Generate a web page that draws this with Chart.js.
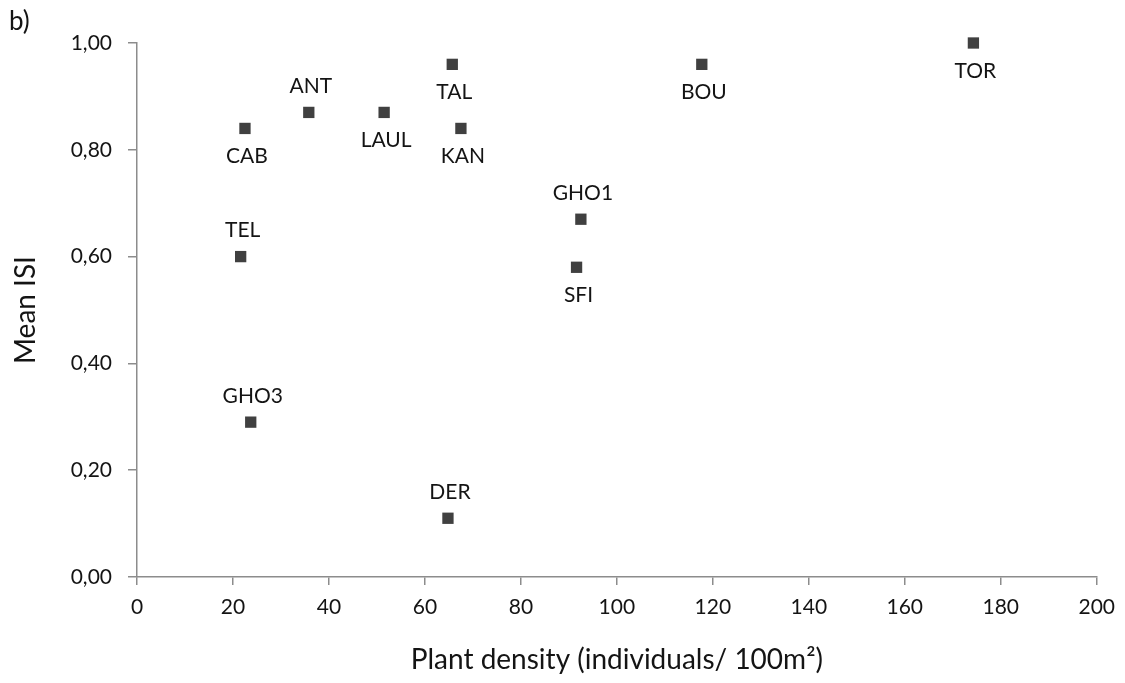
<!doctype html>
<html lang="en">
    <head>
        <meta charset="UTF-8"/>
        <title>Mean ISI vs plant density</title>
        <script src="https://cdn.jsdelivr.net/npm/chart.js@4.4.0/dist/chart.umd.min.js"></script>
        <style>
         * {
             margin: 0;
             padding: 0;
         }
         body { background: #fff; }
         #wrap { width: 1125px; height: 683px; position: relative; }
        </style>
    </head>
    <body>
        <div id="wrap"><canvas id="chart1"></canvas></div>
        <script>
         // sites
         const sites = ['TOR', 'BOU', 'TAL', 'KAN', 'LAUL', 'ANT', 'CAB', 'TEL', 'GHO3', 'DER', 'GHO1', 'SFI'];
         const density = [174.3, 117.7, 65.7, 67.5, 51.5, 35.8, 22.5, 21.6, 23.7, 64.8, 92.5, 91.6];
         const meanIsi = [1.00, 0.96, 0.96, 0.84, 0.87, 0.87, 0.84, 0.60, 0.29, 0.11, 0.67, 0.58];
         // which side of the marker the site label sits on
         const labelSide = ['below', 'below', 'below', 'below', 'below', 'above', 'below', 'above', 'above', 'above', 'above', 'below'];

         const xTicks = [0, 20, 40, 60, 80, 100, 120, 140, 160, 180, 200];
         const yTicks = [0, 0.2, 0.4, 0.6, 0.8, 1.0];

         const textColor = '#141414';
         const axisColor = '#8c8c8c';
         const fontFamily = 'Lato, "Noto Sans", sans-serif';

         const siteLabels = {
             id: 'siteLabels',
             afterDatasetsDraw(chart) {
                 const ctx = chart.ctx;
                 const meta = chart.getDatasetMeta(0);
                 ctx.save();
                 ctx.font = '21px ' + fontFamily;
                 ctx.fillStyle = textColor;
                 ctx.textAlign = 'center';
                 ctx.textBaseline = 'middle';
                 meta.data.forEach((pt, i) => {
                     const dy = labelSide[i] === 'above' ? -26 : 28;
                     ctx.fillText(sites[i], pt.x + 2, pt.y + dy);
                 });
                 // panel letter
                 ctx.font = '26px ' + fontFamily;
                 ctx.textAlign = 'left';
                 ctx.fillText('b)', 9, 22);
                 ctx.restore();
             }
         };

         new Chart(document.getElementById('chart1').getContext('2d'), {
             type: 'scatter',
             data: {
                 datasets: [{
                     label: 'Sites',
                     data: density.map((d, i) => ({x: d, y: meanIsi[i]})),
                     pointStyle: 'rect',
                     pointRadius: 8,
                     backgroundColor: '#404040',
                     borderColor: '#404040',
                     borderWidth: 0,
                     clip: false
                 }]
             },
             options: {
                 responsive: true,
                 maintainAspectRatio: false,
                 animation: false,
                 layout: { padding: { left: 0, right: 27, top: 43, bottom: 0 } },
                 plugins: {
                     legend: { display: false },
                     tooltip: { enabled: false }
                 },
                 scales: {
                     x: {
                         type: 'linear',
                         min: 0,
                         max: 200,
                         afterBuildTicks: (s) => { s.ticks = xTicks.map(v => ({value: v})); },
                         afterFit: (s) => { s.height = 106; },
                         grid: { drawOnChartArea: false, tickLength: 8, color: axisColor, lineWidth: 1.5 },
                         border: { color: axisColor, width: 1.5 },
                         ticks: { color: textColor, font: { family: fontFamily, size: 21 }, padding: 10, maxRotation: 0 },
                         title: {
                             display: true,
                             text: 'Plant density (individuals/ 100m²)',
                             color: textColor,
                             font: { family: fontFamily, size: 28 },
                             padding: { top: 8, bottom: 6 }
                         }
                     },
                     y: {
                         type: 'linear',
                         min: 0,
                         max: 1,
                         afterBuildTicks: (s) => { s.ticks = yTicks.map(v => ({value: v})); },
                         afterFit: (s) => { s.width = 137; },
                         grid: { drawOnChartArea: false, tickLength: 9, color: axisColor, lineWidth: 1.5 },
                         border: { color: axisColor, width: 1.5 },
                         ticks: {
                             color: textColor,
                             font: { family: fontFamily, size: 21 },
                             padding: 16,
                             callback: (v) => v.toFixed(2).replace('.', ',')
                         },
                         title: {
                             display: true,
                             text: 'Mean ISI',
                             color: textColor,
                             font: { family: fontFamily, size: 28 },
                             padding: { top: 9, bottom: 0 }
                         }
                     }
                 }
             },
             plugins: [siteLabels]
         });
        </script>
    </body>
</html>
